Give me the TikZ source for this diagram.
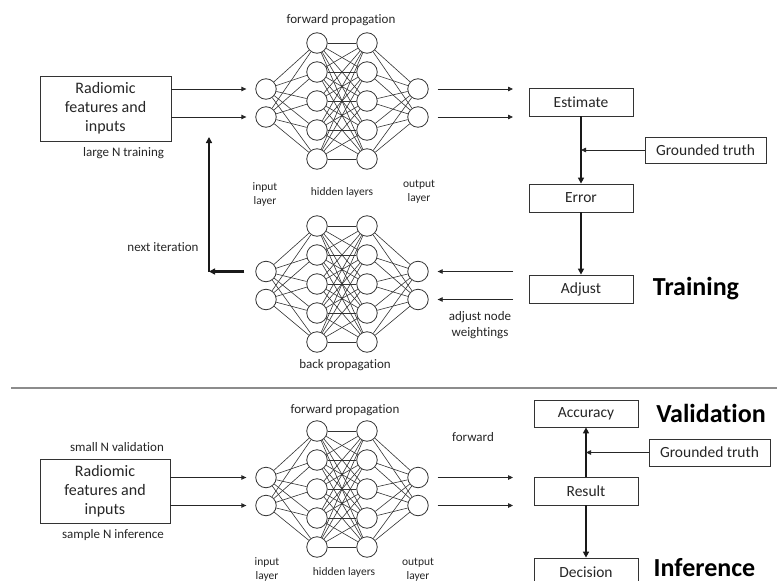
\documentclass[tikz,border=0pt]{standalone}
\usepackage{fontspec}
\setmainfont{Carlito}[RawFeature={-liga;-clig;-dlig;-calt}]
\usetikzlibrary{arrows.meta}
\newcommand\drawnet[3]{%
  \foreach \k in {1,...,5} {
    \node[neuron] (#1-h\k) at (317,{#2+29*(\k-1)}) {};
    \node[neuron] (#1-g\k) at (367,{#2+29*(\k-1)}) {};
  }
  \foreach \k in {1,2} {
    \node[neuron] (#1-i\k) at (266,{#3+28*(\k-1)}) {};
    \node[neuron] (#1-o\k) at (418,{#3+28*(\k-1)}) {};
  }
  \foreach \a in {1,2} \foreach \b in {1,...,5} {
    \draw[link] (#1-i\a) -- (#1-h\b);
    \draw[link] (#1-g\b) -- (#1-o\a);
  }
  \foreach \a in {1,...,5} \foreach \b in {1,...,5} {
    \draw[link] (#1-h\a) -- (#1-g\b);
  }
}
\newcommand\nti{t\kern0pt i}
\begin{document}
\begin{tikzpicture}[x=1pt,y=-1pt,
  neuron/.style={circle,draw=black!80,line width=0.8pt,minimum size=20.5pt,inner sep=0pt},
  link/.style={line width=0.6pt,draw=black!80},
  box/.style={draw=black!80,line width=0.8pt,minimum width=104pt,minimum height=28pt,inner sep=0pt,text=black!85,font=\fontsize{15.5}{18}\selectfont},
  gtbox/.style={box,minimum width=121pt,minimum height=26pt},
  bigbox/.style={draw=black!80,line width=0.8pt,minimum width=131pt,minimum height=65pt,inner sep=0pt,align=center,text=black!85,font=\fontsize{16}{19}\selectfont},
  arr/.style={-{Triangle[length=5pt,width=4.5pt]},line width=0.8pt,draw=black!85},
  thickarr/.style={-{Triangle[length=6pt,width=6pt]},line width=2.2pt,draw=black!90},
  lbl/.style={font=\fontsize{13}{15.5}\selectfont,text=black!85,align=center,inner sep=0pt},
  layerlbl/.style={font=\fontsize{11.5}{14}\selectfont,text=black!85,align=center,inner sep=0pt},
  ttl/.style={font=\fontsize{26}{30}\selectfont\bfseries,text=black,inner sep=0pt}
]
\useasboundingbox (0,0) rectangle (777,581);
\clip (0,0) rectangle (777,581);
\fill[white] (0,0) rectangle (777,581);

% ---------------- Training: forward network ----------------
\drawnet{A}{43}{89}
\node[lbl] (fpA) at (341,20) {forward propaga\nti on};
\node[layerlbl] (ilA) at (265,194) {input\\layer};
\node[layerlbl] (hlA) at (342,192) {hidden layers};
\node[layerlbl] (olA) at (419,192) {output\\layer};

\node[bigbox] (inA) at (105.5,108.5) {Radiomic\\features and\\inputs};
\node[lbl] (ltA) at (123.5,153) {large N training};
\draw[arr,shorten >=9pt] (inA.east |- A-i1) -- (A-i1);
\draw[arr,shorten >=9pt] (inA.east |- A-i2) -- (A-i2);

\coordinate (rA) at (513,0);
\draw[arr,shorten <=9pt] (A-o1) -- (A-o1 -| rA);
\draw[arr,shorten <=9pt] (A-o2) -- (A-o2 -| rA);

\node[box] (est) at (581,102) {Estimate};
\node[box] (err) at (581,198) {Error};
\node[box] (adj) at (581,289) {Adjust};
\node[gtbox] (gt1) at (705.5,150) {Grounded truth};
\draw[thickarr] (est) -- (err);
\draw[thickarr] (err) -- (adj);
\draw[arr] (gt1) -- (gt1 -| est);
\node[ttl] (trn) at (696,289) {Training};

% ---------------- Training: back network ----------------
\drawnet{B}{226}{271.5}
\node[lbl] (bpB) at (345,365) {back propaga\nti on};
\draw[arr,shorten >=9pt] (B-o1 -| rA) -- (B-o1);
\draw[arr,shorten >=9pt] (B-o2 -| rA) -- (B-o2);
\node[lbl] (anw) at (480,325) {adjust node\\weigh\nti ngs};

\coordinate (cn) at (209,271.5);
\coordinate (up) at (209,137);
\draw[thickarr,shorten <=11pt] (B-i1) -- (cn);
\draw[thickarr] (cn) -- (up);
\node[lbl] (nxt) at (163,247) {next itera\nti on};

% ---------------- separator ----------------
\coordinate (sepL) at (11,388);
\coordinate (sepR) at (777,388);
\draw[line width=2.2pt,draw=black!45] (sepL) -- (sepR);

% ---------------- Validation / Inference ----------------
\drawnet{C}{431}{477.5}
\node[lbl] (fpC) at (345,410) {forward propaga\nti on};
\node[layerlbl] (ilC) at (267,569.5) {input\\layer};
\node[layerlbl] (hlC) at (344,572) {hidden layers};
\node[layerlbl] (olC) at (418,569.5) {output\\layer};

\node[bigbox,minimum width=130pt,minimum height=64pt] (inC) at (105,491) {Radiomic\\features and\\inputs};
\node[lbl] (snv) at (117,447) {small N valida\nti on};
\node[lbl] (sni) at (113,535) {sample N inference};
\draw[arr,shorten >=9pt] (inC.east |- C-i1) -- (C-i1);
\draw[arr,shorten >=9pt] (inC.east |- C-i2) -- (C-i2);

\draw[arr,shorten <=9pt] (C-o1) -- (C-o1 -| rA);
\draw[arr,shorten <=9pt] (C-o2) -- (C-o2 -| rA);
\node[lbl] (fwd) at (473,437) {forward};

\node[box,minimum height=27pt] (acc) at (586,413.5) {Accuracy};
\node[gtbox,minimum height=27pt] (gt2) at (709.5,452.5) {Grounded truth};
\node[box] (res) at (586,491) {Result};
\node[box] (dec) at (586,572) {Decision};
\draw[thickarr] (res) -- (acc);
\draw[thickarr] (res) -- (dec);
\draw[arr] (gt2) -- (gt2 -| res);
\node[ttl] (val) at (711,413) {Valida\nti on};
\node[ttl] (inf) at (704.5,568) {Inference};
\end{tikzpicture}
\end{document}
